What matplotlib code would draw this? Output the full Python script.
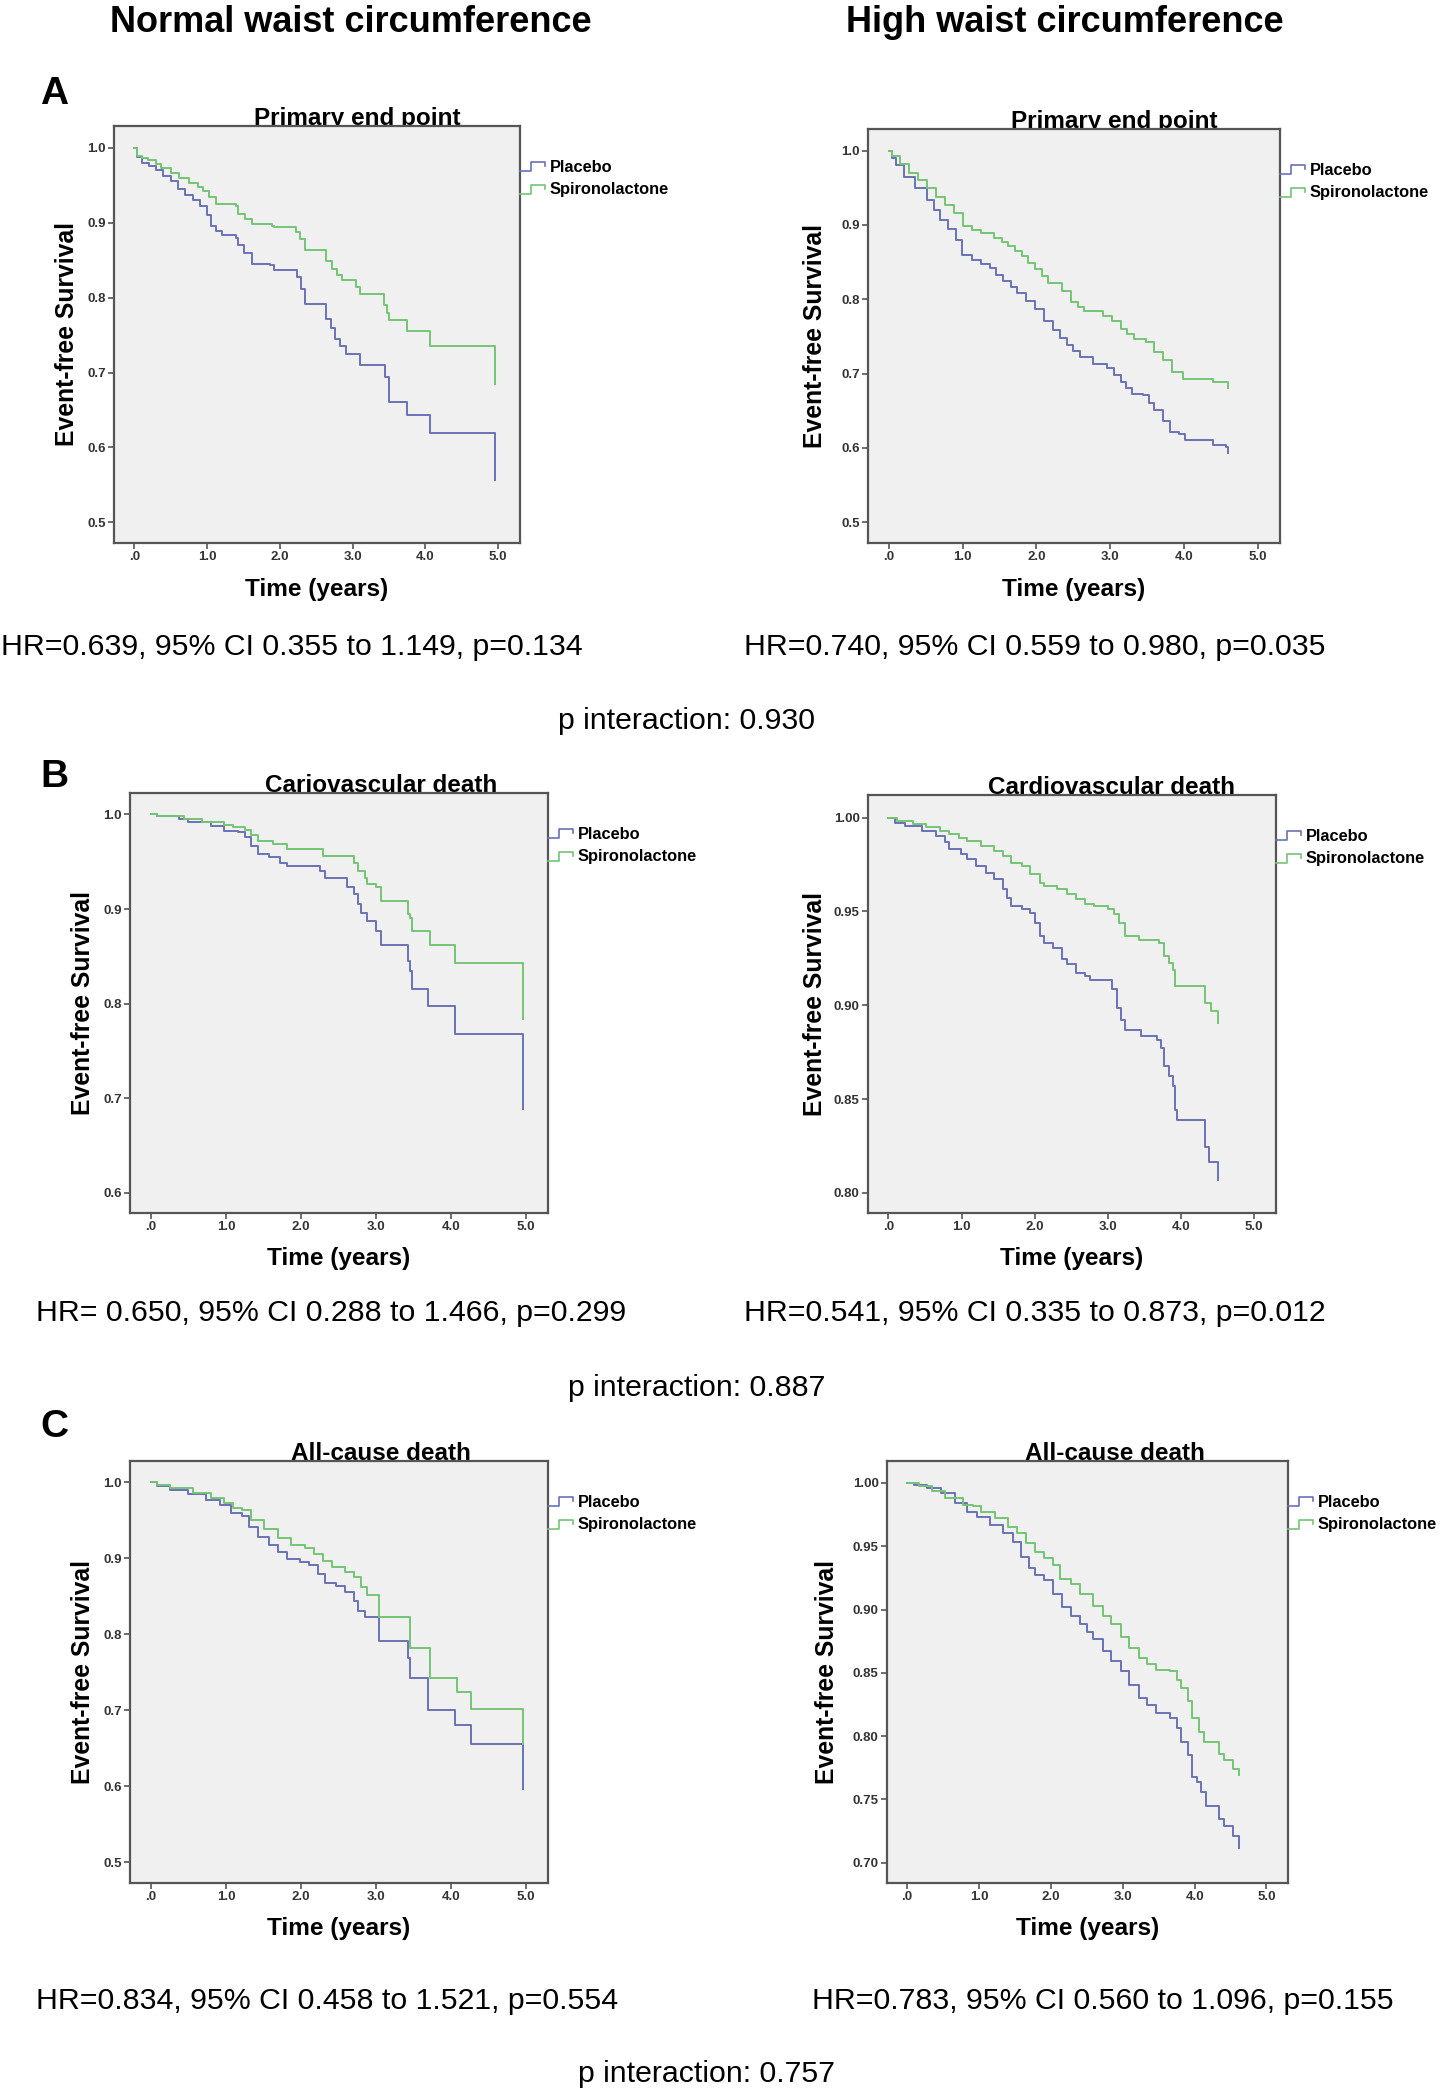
import numpy as np
import matplotlib
matplotlib.use("Agg")
import matplotlib.pyplot as plt
from matplotlib.lines import Line2D
from matplotlib.legend_handler import HandlerBase

# === Kaplan-Meier Daten ===
# A: primary end point
a_norm_plc_t = [0.04, 0.10, 0.20, 0.30, 0.40, 0.50, 0.60, 0.70, 0.80, 0.90, 1.00, 1.05, 1.12, 1.20, 1.39, 1.42, 1.50, 1.61, 1.86, 1.92, 2.23, 2.29, 2.35, 2.63, 2.70, 2.76, 2.82, 2.91, 3.10, 3.44, 3.50, 3.75, 4.06, 4.96]
a_norm_plc_s = [0.987, 0.980, 0.975, 0.970, 0.962, 0.955, 0.945, 0.937, 0.930, 0.922, 0.910, 0.895, 0.889, 0.884, 0.880, 0.870, 0.860, 0.845, 0.843, 0.837, 0.827, 0.812, 0.792, 0.772, 0.760, 0.745, 0.735, 0.725, 0.710, 0.694, 0.661, 0.643, 0.619, 0.557]
a_norm_spi_t = [0.03, 0.10, 0.19, 0.30, 0.37, 0.50, 0.62, 0.75, 0.87, 0.95, 1.02, 1.12, 1.39, 1.43, 1.52, 1.61, 1.89, 1.92, 2.22, 2.28, 2.35, 2.64, 2.72, 2.78, 2.85, 3.04, 3.10, 3.43, 3.47, 3.50, 3.75, 4.06, 4.96]
a_norm_spi_s = [0.989, 0.986, 0.984, 0.978, 0.973, 0.966, 0.960, 0.953, 0.947, 0.942, 0.934, 0.925, 0.922, 0.911, 0.905, 0.898, 0.896, 0.894, 0.888, 0.878, 0.863, 0.849, 0.838, 0.830, 0.823, 0.814, 0.805, 0.790, 0.780, 0.770, 0.756, 0.736, 0.685]
a_high_plc_t = [0.05, 0.10, 0.21, 0.35, 0.52, 0.62, 0.70, 0.80, 0.91, 0.99, 1.13, 1.25, 1.37, 1.46, 1.55, 1.65, 1.74, 1.86, 1.98, 2.10, 2.23, 2.32, 2.41, 2.50, 2.59, 2.77, 2.96, 3.05, 3.14, 3.22, 3.29, 3.45, 3.52, 3.60, 3.72, 3.81, 3.93, 4.02, 4.39, 4.57, 4.60]
a_high_plc_s = [0.990, 0.980, 0.964, 0.950, 0.933, 0.920, 0.907, 0.895, 0.880, 0.860, 0.853, 0.848, 0.842, 0.833, 0.824, 0.817, 0.809, 0.798, 0.787, 0.771, 0.758, 0.748, 0.738, 0.730, 0.722, 0.713, 0.707, 0.698, 0.689, 0.681, 0.673, 0.671, 0.661, 0.651, 0.636, 0.622, 0.618, 0.611, 0.604, 0.601, 0.593]
a_high_spi_t = [0.05, 0.15, 0.28, 0.40, 0.52, 0.64, 0.76, 0.88, 1.01, 1.13, 1.25, 1.43, 1.53, 1.62, 1.71, 1.80, 1.89, 1.98, 2.07, 2.16, 2.35, 2.47, 2.56, 2.65, 2.90, 3.02, 3.14, 3.23, 3.32, 3.48, 3.60, 3.72, 3.84, 3.99, 4.39, 4.60]
a_high_spi_s = [0.993, 0.982, 0.970, 0.960, 0.949, 0.938, 0.927, 0.916, 0.898, 0.893, 0.889, 0.882, 0.877, 0.871, 0.865, 0.858, 0.849, 0.840, 0.831, 0.822, 0.811, 0.796, 0.790, 0.784, 0.778, 0.771, 0.760, 0.753, 0.747, 0.742, 0.729, 0.718, 0.702, 0.693, 0.689, 0.681]

# B: cardiovascular death
b_norm_plc_t = [0.08, 0.38, 0.50, 0.80, 0.98, 1.16, 1.25, 1.34, 1.43, 1.57, 1.72, 1.81, 2.26, 2.32, 2.62, 2.71, 2.77, 2.80, 2.89, 3.01, 3.07, 3.43, 3.46, 3.49, 3.70, 4.06, 4.96]
b_norm_plc_s = [0.998, 0.995, 0.992, 0.988, 0.983, 0.981, 0.976, 0.967, 0.958, 0.955, 0.949, 0.945, 0.940, 0.933, 0.923, 0.916, 0.905, 0.896, 0.887, 0.877, 0.862, 0.845, 0.834, 0.816, 0.797, 0.768, 0.689]
b_norm_spi_t = [0.08, 0.44, 0.68, 0.98, 1.10, 1.25, 1.34, 1.43, 1.63, 1.81, 2.29, 2.71, 2.77, 2.86, 2.89, 3.01, 3.07, 3.43, 3.46, 3.49, 3.73, 4.06, 4.96]
b_norm_spi_s = [0.998, 0.995, 0.992, 0.989, 0.987, 0.984, 0.978, 0.972, 0.969, 0.964, 0.956, 0.949, 0.940, 0.933, 0.926, 0.923, 0.908, 0.895, 0.891, 0.877, 0.862, 0.843, 0.784]
b_high_plc_t = [0.09, 0.22, 0.46, 0.65, 0.77, 0.83, 0.99, 1.08, 1.20, 1.33, 1.45, 1.57, 1.62, 1.67, 1.82, 1.94, 2.00, 2.07, 2.13, 2.25, 2.38, 2.44, 2.56, 2.69, 2.75, 3.06, 3.12, 3.18, 3.24, 3.46, 3.67, 3.73, 3.77, 3.83, 3.89, 3.92, 3.95, 4.33, 4.38, 4.51]
b_high_plc_s = [0.9973, 0.9956, 0.9929, 0.9902, 0.9867, 0.9831, 0.9804, 0.9778, 0.9742, 0.9706, 0.9671, 0.9617, 0.9570, 0.9528, 0.9511, 0.9493, 0.9440, 0.9368, 0.9333, 0.9306, 0.9244, 0.9217, 0.9173, 0.9155, 0.9137, 0.9084, 0.8986, 0.8923, 0.8870, 0.8834, 0.8817, 0.8772, 0.8674, 0.8621, 0.8567, 0.8443, 0.8390, 0.8247, 0.8167, 0.8070]
b_high_spi_t = [0.12, 0.34, 0.52, 0.71, 0.83, 0.96, 1.08, 1.27, 1.45, 1.57, 1.67, 1.82, 1.94, 2.07, 2.13, 2.31, 2.44, 2.56, 2.69, 2.81, 3.00, 3.09, 3.15, 3.24, 3.43, 3.70, 3.77, 3.83, 3.89, 3.92, 4.33, 4.41, 4.51]
b_high_spi_s = [0.9982, 0.9964, 0.9947, 0.9929, 0.9911, 0.9893, 0.9875, 0.9849, 0.9822, 0.9795, 0.9760, 0.9742, 0.9698, 0.9653, 0.9635, 0.9617, 0.9591, 0.9564, 0.9537, 0.9528, 0.9510, 0.9484, 0.9439, 0.9368, 0.9350, 0.9333, 0.9262, 0.9226, 0.9190, 0.9101, 0.9012, 0.8968, 0.8906]

# C: all-cause death
c_norm_plc_t = [0.08, 0.26, 0.50, 0.74, 0.92, 1.07, 1.22, 1.31, 1.43, 1.57, 1.69, 1.81, 1.99, 2.11, 2.23, 2.32, 2.47, 2.59, 2.71, 2.77, 2.86, 3.04, 3.43, 3.46, 3.70, 4.06, 4.27, 4.96]
c_norm_plc_s = [0.995, 0.990, 0.984, 0.977, 0.970, 0.959, 0.955, 0.941, 0.928, 0.917, 0.908, 0.899, 0.895, 0.891, 0.879, 0.868, 0.864, 0.855, 0.844, 0.831, 0.822, 0.791, 0.769, 0.742, 0.700, 0.680, 0.656, 0.596]
c_norm_spi_t = [0.08, 0.26, 0.56, 0.80, 0.98, 1.10, 1.22, 1.34, 1.51, 1.69, 1.87, 2.05, 2.17, 2.29, 2.41, 2.59, 2.71, 2.80, 2.89, 3.04, 3.46, 3.73, 4.09, 4.27, 4.96]
c_norm_spi_s = [0.997, 0.992, 0.986, 0.979, 0.973, 0.966, 0.964, 0.950, 0.939, 0.926, 0.917, 0.913, 0.906, 0.897, 0.888, 0.882, 0.875, 0.862, 0.851, 0.822, 0.782, 0.742, 0.724, 0.702, 0.656]
c_high_plc_t = [0.09, 0.28, 0.47, 0.66, 0.84, 0.97, 1.16, 1.34, 1.47, 1.59, 1.70, 1.78, 1.91, 2.03, 2.16, 2.28, 2.41, 2.50, 2.59, 2.72, 2.84, 2.97, 3.09, 3.22, 3.34, 3.47, 3.66, 3.75, 3.81, 3.91, 3.97, 4.03, 4.09, 4.16, 4.34, 4.41, 4.53, 4.62]
c_high_plc_s = [0.9987, 0.9960, 0.9920, 0.9840, 0.9774, 0.9734, 0.9668, 0.9602, 0.9535, 0.9416, 0.9330, 0.9270, 0.9230, 0.9120, 0.9020, 0.8950, 0.8885, 0.8820, 0.8765, 0.8672, 0.8593, 0.8513, 0.8407, 0.8300, 0.8247, 0.8181, 0.8141, 0.8062, 0.7955, 0.7849, 0.7677, 0.7637, 0.7557, 0.7451, 0.7345, 0.7292, 0.7212, 0.7120]
c_high_spi_t = [0.16, 0.34, 0.53, 0.78, 0.91, 1.03, 1.22, 1.41, 1.53, 1.66, 1.78, 1.91, 2.03, 2.13, 2.28, 2.41, 2.59, 2.72, 2.84, 2.97, 3.09, 3.22, 3.34, 3.47, 3.66, 3.75, 3.81, 3.91, 3.97, 4.06, 4.13, 4.34, 4.41, 4.53, 4.62]
c_high_spi_s = [0.9973, 0.9934, 0.9880, 0.9827, 0.9814, 0.9774, 0.9721, 0.9655, 0.9602, 0.9522, 0.9456, 0.9403, 0.9350, 0.9243, 0.9204, 0.9124, 0.9031, 0.8951, 0.8885, 0.8779, 0.8699, 0.8619, 0.8566, 0.8526, 0.8513, 0.8447, 0.8381, 0.8275, 0.8141, 0.8035, 0.7955, 0.7862, 0.7809, 0.7743, 0.7690]

titles = ["Primary end point", "Primary end point", "Cariovascular death",
          "Cardiovascular death", "All-cause death", "All-cause death"]
hr_texts = ["HR=0.639, 95% CI 0.355 to 1.149, p=0.134",
            "HR=0.740, 95% CI 0.559 to 0.980, p=0.035",
            "HR= 0.650, 95% CI 0.288 to 1.466, p=0.299",
            "HR=0.541, 95% CI 0.335 to 0.873, p=0.012",
            "HR=0.834, 95% CI 0.458 to 1.521, p=0.554",
            "HR=0.783, 95% CI 0.560 to 1.096, p=0.155"]
p_interaction = ["p interaction: 0.930", "p interaction: 0.887", "p interaction: 0.757"]
col_headers = ["Normal waist circumference", "High waist circumference"]
row_letters = ["A", "B", "C"]
series_labels = ["Placebo", "Spironolactone"]
x_ticks = [0, 1, 2, 3, 4, 5]
x_ticklabels = [".0", "1.0", "2.0", "3.0", "4.0", "5.0"]
y_ticks_10 = [0.5, 0.6, 0.7, 0.8, 0.9, 1.0]
y_ticks_b_norm = [0.6, 0.7, 0.8, 0.9, 1.0]
y_ticks_b_high = [0.80, 0.85, 0.90, 0.95, 1.00]
y_ticks_c_high = [0.70, 0.75, 0.80, 0.85, 0.90, 0.95, 1.00]

W, H = 1455, 2100
PLC_COL = "#6a72b6"
SPI_COL = "#74c474"
BG = "#f0f0f0"
FRAME = "#555555"
FONT = ["Liberation Sans", "DejaVu Sans"]
NARROW = ["Liberation Sans Narrow", "Liberation Sans", "DejaVu Sans"]

# box in pixel: left, top, right, bottom ; ylim ; yticks ; fmt ; title x ; ylabel x
panels = [
    dict(box=(114, 126, 520, 543), ylim=(0.4725, 1.029), yt=y_ticks_10, fmt="%.1f",
         plc=(a_norm_plc_t, a_norm_plc_s), spi=(a_norm_spi_t, a_norm_spi_s), tx=0.60, yl=67),
    dict(box=(868, 129, 1280, 543), ylim=(0.472, 1.029), yt=y_ticks_10, fmt="%.1f",
         plc=(a_high_plc_t, a_high_plc_s), spi=(a_high_spi_t, a_high_spi_s), tx=0.597, yl=815),
    dict(box=(130, 793, 548, 1213), ylim=(0.5787, 1.0227), yt=y_ticks_b_norm, fmt="%.1f",
         plc=(b_norm_plc_t, b_norm_plc_s), spi=(b_norm_spi_t, b_norm_spi_s), tx=0.60, yl=83),
    dict(box=(868, 795, 1276, 1213), ylim=(0.7893, 1.012), yt=y_ticks_b_high, fmt="%.2f",
         plc=(b_high_plc_t, b_high_plc_s), spi=(b_high_spi_t, b_high_spi_s), tx=0.598, yl=815),
    dict(box=(130, 1461, 548, 1883), ylim=(0.4725, 1.028), yt=y_ticks_10, fmt="%.1f",
         plc=(c_norm_plc_t, c_norm_plc_s), spi=(c_norm_spi_t, c_norm_spi_s), tx=0.60, yl=83),
    dict(box=(887, 1461, 1288, 1883), ylim=(0.684, 1.0173), yt=y_ticks_c_high, fmt="%.2f",
         plc=(c_high_plc_t, c_high_plc_s), spi=(c_high_spi_t, c_high_spi_s), tx=0.568, yl=827),
]
hr_pos = [(292, 647), (1035, 647), (331, 1313), (1035, 1313), (327, 2001), (1103, 2001)]
pint_pos = [(686, 721), (697, 1388), (706, 2074)]
letter_pos = [(54, 94), (54, 777), (54, 1427)]
header_pos = [(351, 23), (1065, 23)]


# === Stufen-Symbol fuer die Legende ===
class StepHandler(HandlerBase):
    def create_artists(self, legend, orig_handle, xdescent, ydescent, width, height, fontsize, trans):
        xs = np.array([0.0, 0.45, 0.45, 1.0, 1.0]) * width - xdescent
        ys = np.array([0.05, 0.05, 0.85, 0.85, 0.5]) * height - ydescent
        line = Line2D(xs, ys, color=orig_handle.get_color(), lw=1.2)
        line.set_transform(trans)
        return [line]


def fx(px):
    return px / W


def fy(py):
    return 1 - py / H


fig = plt.figure(figsize=(W / 100, H / 100), dpi=100)
fig.patch.set_facecolor("white")

for i, p in enumerate(panels):
    l, t, r, b = p["box"]
    ax = fig.add_axes([fx(l), fy(b), (r - l) / W, (b - t) / H])
    ax.set_facecolor(BG)
    for sp in ax.spines.values():
        sp.set_color(FRAME)
        sp.set_linewidth(1.6)

    handles = []
    for (tt, ss), col, lab in [(p["plc"], PLC_COL, series_labels[0]),
                               (p["spi"], SPI_COL, series_labels[1])]:
        xs = [0.0] + list(tt)
        ys = [1.0] + list(ss)
        ln, = ax.plot(xs, ys, drawstyle="steps-post", color=col, lw=1.4, label=lab)
        handles.append(ln)

    ax.set_xlim(-0.28, 5.3)
    ax.set_ylim(*p["ylim"])
    ax.set_xticks(x_ticks)
    ax.set_xticklabels(x_ticklabels)
    ax.set_yticks(p["yt"])
    ax.set_yticklabels([p["fmt"] % v for v in p["yt"]])
    ax.tick_params(direction="out", length=4, width=1.2, color=FRAME, pad=2,
                   top=False, right=False)
    for lab in ax.get_xticklabels() + ax.get_yticklabels():
        lab.set_fontfamily(NARROW)
        lab.set_fontsize(9.5)
        lab.set_fontweight("bold")
        lab.set_color("#333333")

    hgt = b - t
    leg = ax.legend(handles=handles, loc="upper left",
                    bbox_to_anchor=(1.0, 1 - 34 / hgt), borderaxespad=0, borderpad=0,
                    frameon=False, handlelength=1.55, handletextpad=0.25,
                    labelspacing=0.45, handler_map={Line2D: StepHandler()},
                    prop=dict(family=NARROW, weight="bold", size=11.8))

    # title: baseline on box top, descenders hidden behind the axes
    fig.text(fx(l + p["tx"] * (r - l)), fy(t - 1), titles[i], ha="center", va="baseline",
             fontsize=17.5, fontweight="bold", family=FONT, zorder=-1)
    fig.text(fx(p["yl"]), fy((t + b) / 2), "Event-free Survival", rotation=90,
             ha="center", va="center", fontsize=17.8, fontweight="bold", family=FONT)
    fig.text(fx((l + r) / 2), fy(b + 46), "Time (years)", ha="center", va="center",
             fontsize=17.6, fontweight="bold", family=FONT)

for txt, (x, y) in zip(hr_texts, hr_pos):
    fig.text(fx(x), fy(y), txt, ha="center", va="center", fontsize=21.8, family=NARROW)
for txt, (x, y) in zip(p_interaction, pint_pos):
    fig.text(fx(x), fy(y), txt, ha="center", va="center", fontsize=21.8, family=NARROW)
for txt, (x, y) in zip(row_letters, letter_pos):
    fig.text(fx(x), fy(y), txt, ha="center", va="center", fontsize=28, fontweight="bold", family=FONT)
for txt, (x, y) in zip(col_headers, header_pos):
    fig.text(fx(x), fy(y), txt, ha="center", va="center", fontsize=26, fontweight="bold", family=FONT)

fig.savefig("out.png", dpi=100, facecolor="white")
